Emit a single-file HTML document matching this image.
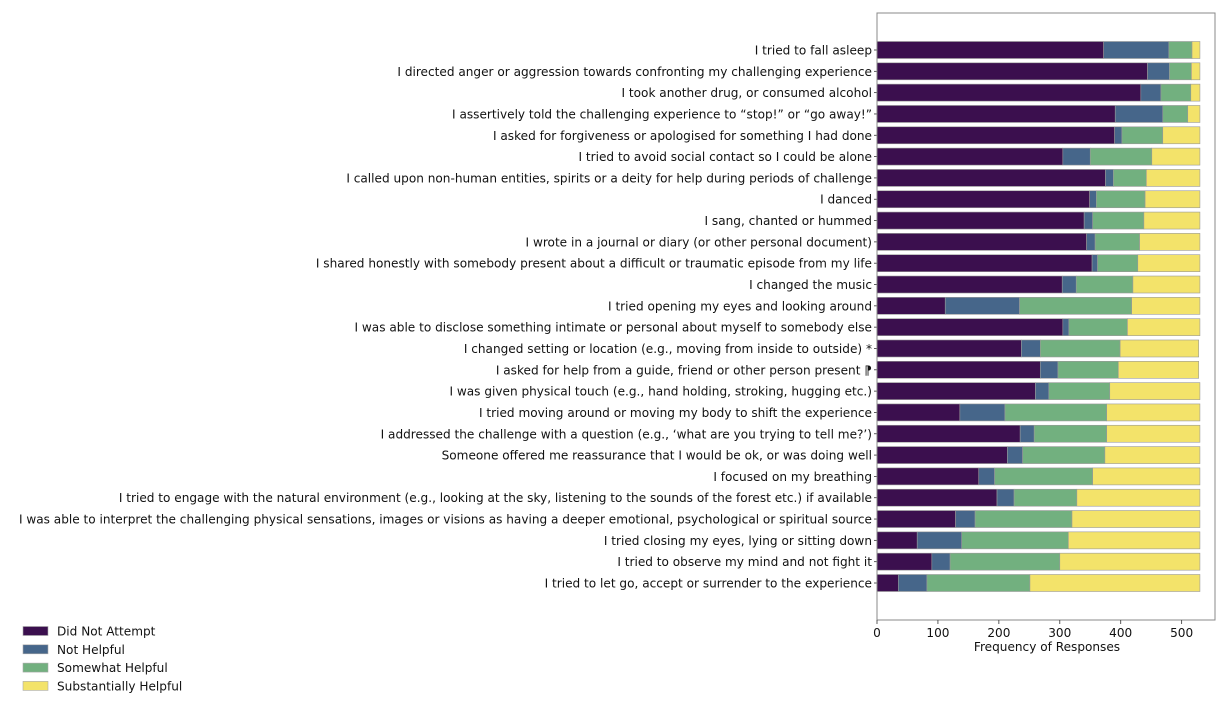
<!DOCTYPE html>
<html><head><meta charset="utf-8"><style>
body{margin:0;background:#fff;}
svg{display:block;font-family:"DejaVu Sans","Liberation Sans",sans-serif;}
</style></head><body>
<svg id="chart" width="1230" height="706" viewBox="0 0 1230 706" xmlns="http://www.w3.org/2000/svg"></svg>
<script>
const categories = [
"I tried to fall asleep",
"I directed anger or aggression towards confronting my challenging experience",
"I took another drug, or consumed alcohol",
"I assertively told the challenging experience to “stop!” or “go away!”",
"I asked for forgiveness or apologised for something I had done",
"I tried to avoid social contact so I could be alone",
"I called upon non-human entities, spirits or a deity for help during periods of challenge",
"I danced",
"I sang, chanted or hummed",
"I wrote in a journal or diary (or other personal document)",
"I shared honestly with somebody present about a difficult or traumatic episode from my life",
"I changed the music",
"I tried opening my eyes and looking around",
"I was able to disclose something intimate or personal about myself to somebody else",
"I changed setting or location (e.g., moving from inside to outside) *",
"I asked for help from a guide, friend or other person present ⁋",
"I was given physical touch (e.g., hand holding, stroking, hugging etc.)",
"I tried moving around or moving my body to shift the experience",
"I addressed the challenge with a question (e.g., ‘what are you trying to tell me?’)",
"Someone offered me reassurance that I would be ok, or was doing well",
"I focused on my breathing",
"I tried to engage with the natural environment (e.g., looking at the sky, listening to the sounds of the forest etc.) if available",
"I was able to interpret the challenging physical sensations, images or visions as having a deeper emotional, psychological or spiritual source",
"I tried closing my eyes, lying or sitting down",
"I tried to observe my mind and not fight it",
"I tried to let go, accept or surrender to the experience"
];
const didNotAttempt = [372,444,433,391,390,305,375,349,340,344,353,304,112,305,237,268,260,136,235,214,167,197,129,66,90,35];
const notHelpful = [107,36,33,78,12,45,13,11,14,14,9,23,122,10,31,29,22,74,23,25,26,28,32,73,30,47];
const somewhatHelpful = [38,36,49,41,67,101,54,80,84,73,66,93,184,96,131,99,100,167,119,135,161,103,159,175,180,169];
const substantiallyHelpful = [13,14,15,20,61,79,88,90,92,99,102,110,112,119,129,132,148,153,153,156,176,202,210,216,230,279];
const seriesNames = ["Did Not Attempt","Not Helpful","Somewhat Helpful","Substantially Helpful"];
const xTicks = [0,100,200,300,400,500];

const colors = ["#3b0f4e","#46668a","#72b07f","#f3e36a"];
const NS = "http://www.w3.org/2000/svg";
const svg = document.getElementById('chart');
const L = 877, R = 1215, T = 13, B = 620;
const FS = 12.1;
const x = v => L + v * 0.6093;
const y0 = 50, step = 21.32, bh = 17;
const y = i => y0 + i * step;
function mk(tag, attrs, parent){const e=document.createElementNS(NS,tag);for(const k in attrs)e.setAttribute(k,attrs[k]);(parent||svg).appendChild(e);return e;}

const series = [didNotAttempt, notHelpful, somewhatHelpful, substantiallyHelpful];
categories.forEach((c, i) => {
  let acc = 0;
  series.forEach((s, k) => {
    const r = mk('rect', {x: x(acc), y: y(i) - bh/2, width: x(acc + s[i]) - x(acc), height: bh, fill: colors[k], stroke: '#999', 'stroke-width': 0.6});
    
    
    acc += s[i];
  });
  const t = mk('text', {x: 872, y: y(i) + 4.5, 'text-anchor': 'end', 'font-size': FS, fill: '#111'});
  t.textContent = c;
  
  
  mk('line', {x1: L-3, x2: L, y1: y(i), y2: y(i), stroke: '#333', 'stroke-width': 0.8});
});

const frame = mk('rect', {x: L, y: T, width: R - L, height: B - T, fill: 'none', stroke: '#888', 'stroke-width': 1});



xTicks.forEach(v => {
  mk('line', {x1: x(v), x2: x(v), y1: B, y2: B + 4, stroke: '#333', 'stroke-width': 0.8});
  const t = mk('text', {x: x(v), y: B + 17, 'text-anchor': 'middle', 'font-size': FS, fill: '#111'});
  t.textContent = v;
  
  
});
const xt = mk('text', {x: (L + R) / 2 + 1, y: 651, 'text-anchor': 'middle', 'font-size': FS, fill: '#111'});
xt.textContent = 'Frequency of Responses';



seriesNames.forEach((n, k) => {
  const cy = 631 + k * 18.3;
  const sw = mk('rect', {x: 23, y: cy - 4.5, width: 25, height: 9, fill: colors[k], stroke: '#aaa', 'stroke-width': 0.6});
  
  
  const t = mk('text', {x: 57, y: cy + 4.5, 'font-size': FS, fill: '#111'});
  t.textContent = n;
  
  
});
</script>
</body></html>
